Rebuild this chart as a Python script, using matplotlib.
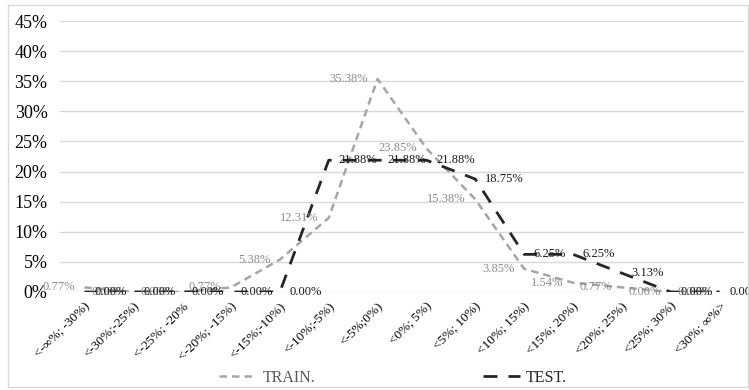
import matplotlib
matplotlib.use("Agg")
import matplotlib.pyplot as plt
from matplotlib.patches import Rectangle
from matplotlib.ticker import FuncFormatter

categories = ["<-∞%; -30%)", "<-30%;-25%)", "<-25%; -20%", "<-20%; -15%)",
              "<-15%;-10%)", "<-10%;-5%)", "<-5%;0%)", "<0%; 5%)", "<5%; 10%)",
              "<10%; 15%)", "<15%; 20%)", "<20%; 25%)", "<25%; 30%)", "<30%; ∞%>"]
train = [0.77, 0.00, 0.00, 0.77, 5.38, 12.31, 35.38, 23.85, 15.38, 3.85, 1.54, 0.77, 0.00, 0.00]
test = [0.00, 0.00, 0.00, 0.00, 0.00, 21.88, 21.88, 21.88, 18.75, 6.25, 6.25, 3.13, 0.00, 0.00]
yticks = [0, 5, 10, 15, 20, 25, 30, 35, 40, 45]

plt.rcParams['font.family'] = ['Liberation Serif', 'DejaVu Serif']

W, H = 749, 390
fig = plt.figure(figsize=(W / 100, H / 100), dpi=100)
ax = fig.add_axes([60 / W, 98 / H, 684 / W, 271 / H])

x = list(range(len(categories)))
train_col = '#A6A6A6'
test_col = '#262626'
ax.plot(x, train, color=train_col, lw=1.8, dashes=(3, 2), label='TRAIN.', zorder=3)
ax.plot(x, test, color=test_col, lw=2.0, dashes=(5, 4), label='TEST.', zorder=4)

for xi, v in zip(x, train):
    ax.annotate(f"{v:.2f}%", (xi, v), xytext=(-7, 0), textcoords='offset points',
                ha='right', va='center', fontsize=9, color='#8C8C8C', zorder=5)
for xi, v in zip(x, test):
    ax.annotate(f"{v:.2f}%", (xi, v), xytext=(7, 0), textcoords='offset points',
                ha='left', va='center', fontsize=9, color='#1A1A1A', zorder=5,
                annotation_clip=False)

ax.set_xlim(-0.5, len(categories) - 0.5)
ax.set_ylim(0, 45)
ax.set_yticks(yticks)
ax.yaxis.set_major_formatter(FuncFormatter(lambda v, p: f"{v:.0f}%"))
ax.set_xticks(x)
ax.set_xticklabels(categories, rotation=45, ha='right', rotation_mode='anchor', fontsize=9.5)
ax.tick_params(axis='x', length=0, pad=6)
ax.tick_params(axis='y', length=0, pad=9, labelsize=13)
for s in ax.spines.values():
    s.set_visible(False)
ax.grid(axis='y', color='#D9D9D9', lw=1)
ax.set_axisbelow(True)

leg = fig.legend(loc='center', bbox_to_anchor=(0.525, 12 / H), ncol=2, frameon=False,
                 fontsize=11.5, handlelength=2.3, handletextpad=0.4, columnspacing=10.5,
                 labelcolor=['#595959', '#262626'])

fig.patches.append(Rectangle((8 / W, 3 / H), (W - 9) / W, (H - 8) / H, transform=fig.transFigure,
                             fill=False, edgecolor='#D9D9D9', lw=1))

fig.savefig('out.png', dpi=100)
